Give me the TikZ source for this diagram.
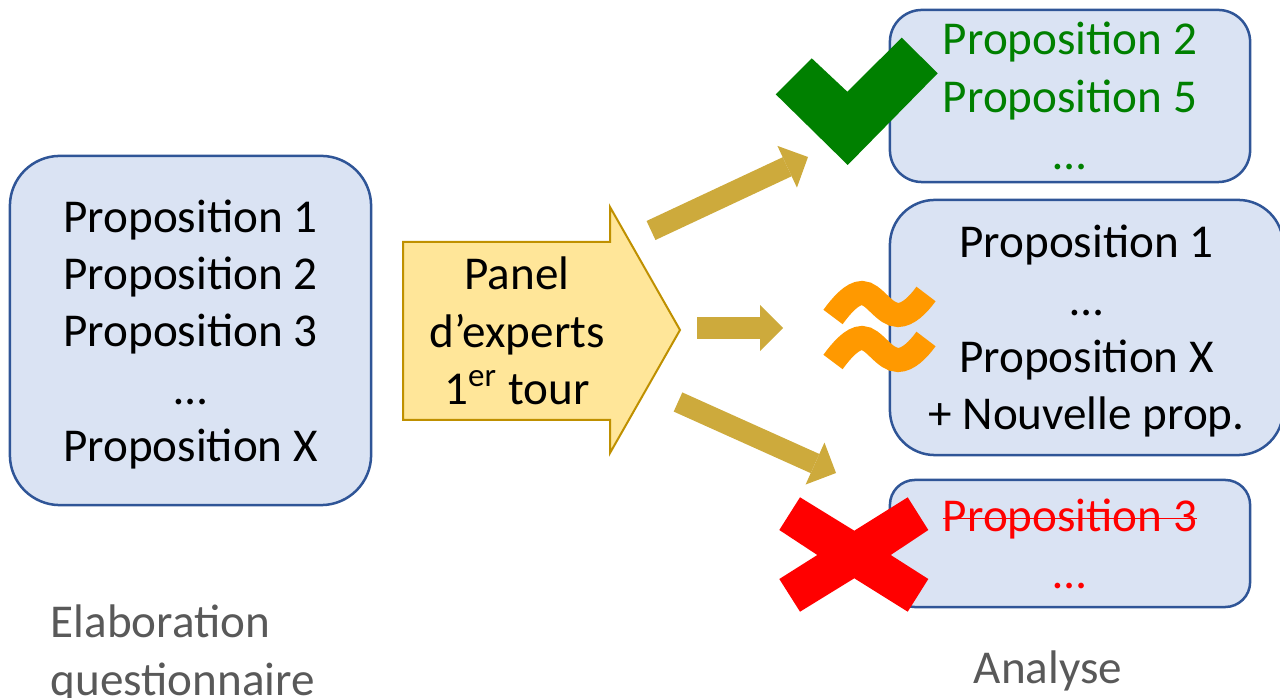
\documentclass[tikz,border=0pt]{standalone}
\usepackage{fontspec}
\setmainfont{Carlito}
\usetikzlibrary{arrows.meta}
\definecolor{boxfill}{HTML}{DAE3F3}
\definecolor{boxline}{HTML}{2F5597}
\definecolor{panelfill}{HTML}{FFE699}
\definecolor{panelline}{HTML}{BF9000}
\definecolor{flowgold}{RGB}{205,170,60}
\definecolor{okgreen}{HTML}{008000}
\definecolor{midorange}{HTML}{FF9900}
\definecolor{koRed}{HTML}{FF0000}
\definecolor{notegray}{HTML}{595959}
\newcommand{\propfont}{\fontsize{13.4}{16.3}\selectfont}
\newsavebox{\barrebox}
\newcommand{\barre}[1]{\sbox{\barrebox}{#1}\rlap{\rule[0.52ex]{\wd\barrebox}{0.5pt}}\usebox{\barrebox}}

\begin{document}
\begin{tikzpicture}[
    x=0.01cm, y=-0.01cm,
    every node/.style={font=\propfont},
    propbox/.style={draw=boxline, fill=boxfill, line width=0.025cm, align=center, inner sep=0pt,
                    text depth=0pt},
    flow/.style={draw=flowgold, line width=0.21cm,
                 -{Triangle[length=0.23cm, width=0.46cm, line width=0pt]}},
    tilde/.style={draw=midorange, line width=0.24cm},
    note/.style={text=notegray, align=left, inner sep=0pt},
]
\useasboundingbox (0,0) rectangle (1280,698);
% === Initial list ===
\node[propbox, minimum width=3.61cm, minimum height=3.49cm, rounded corners=0.5cm] (liste) at (190.5,330.5)
    {Proposition 1\\Proposition 2\\Proposition 3\\…\\Proposition X};
% === Expert panel ===
\draw[fill=panelfill, draw=panelline, line width=0.02cm]
    (403,242) -- (610,242) -- (610,207) -- (680,330) -- (610,453) -- (610,420) -- (403,420) -- cycle;
\node[align=center] (panel) at (517,331) {Panel\\d’experts\\1\textsuperscript{er} tour};
% === Results ===
\node[propbox, text=okgreen, minimum width=3.6cm, minimum height=1.72cm, rounded corners=0.32cm] (retenu) at (1070,96)
    {Proposition 2\\Proposition 5\\…};
\node[propbox, minimum width=3.93cm, minimum height=2.55cm, rounded corners=0.45cm] (modif) at (1086.5,327.5)
    {Proposition 1\\…\\Proposition X\\+ Nouvelle prop.};
\node[propbox, text=koRed, minimum width=3.6cm, minimum height=1.27cm, rounded corners=0.25cm] (rejet) at (1070,543.5)
    {\barre{Proposition 3}\\…};
% Flow arrows
\coordinate (hautA) at (651,230.5);
\coordinate (hautB) at (808,157);
\coordinate (milA) at (697,328);
\coordinate (milB) at (783,328);
\coordinate (basA) at (678,402);
\coordinate (basB) at (836,473);
\draw[flow] (hautA) -- (hautB);
\draw[flow] (milA) -- (milB);
\draw[flow] (basA) -- (basB);
% === Marks ===
\fill[okgreen] (775.7,94.3) -- (811.7,58.3) -- (847.3,91.7) -- (901.7,37.7) -- (937.7,73.3) -- (847.7,165) -- cycle;
\foreach \dy in {0,45} {
  \draw[tilde, shift={(0,\dy)}] (833,317) .. controls (841,306) and (852,293) .. (862,293)
      .. controls (874,293) and (884,315) .. (898,315)
      .. controls (908,315) and (918,305) .. (926,294);
}
\fill[koRed] (779.3,530) -- (800,497.3) -- (854.3,530.7) -- (907.7,497.3) -- (928.3,530) -- (890.7,555)
    -- (928.3,579) -- (907.7,611.7) -- (854.3,578.3) -- (800,611.7) -- (779.3,579) -- (817.3,555) -- cycle;
% === Step labels ===
\node[note, anchor=west] (etape1) at (50,654) {Elaboration\\questionnaire};
\node[note, anchor=base] (etape2) at (1048,683) {Analyse};
\end{tikzpicture}
\end{document}
